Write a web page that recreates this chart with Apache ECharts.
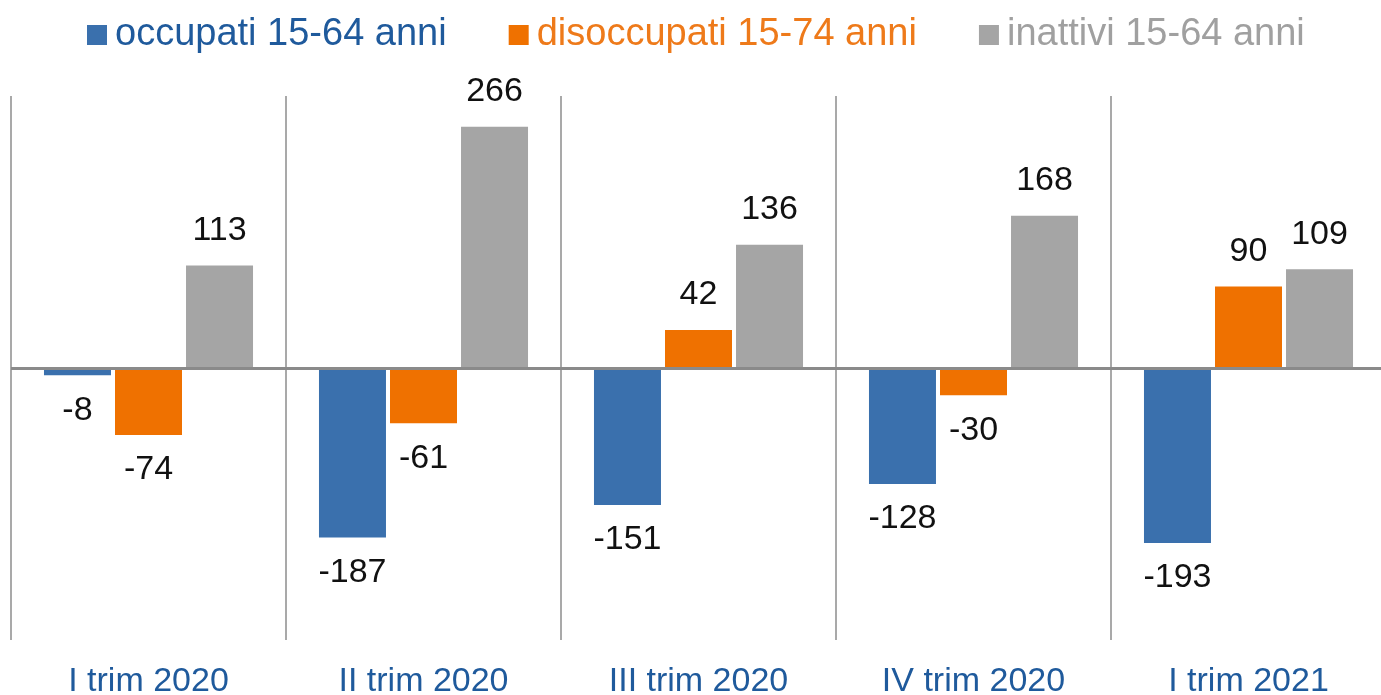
<!DOCTYPE html>
<html>
<head>
<meta charset="utf-8">
<script src="https://cdn.jsdelivr.net/npm/echarts@6/dist/echarts.min.js"></script>
<style>
  html, body { margin: 0; padding: 0; background: #fff; }
  #chart { width: 1381px; height: 695px; }
</style>
</head>
<body>
<div id="chart"></div>
<script>
// trimestri e variazioni (migliaia)
const categories = ['I trim 2020', 'II trim 2020', 'III trim 2020', 'IV trim 2020', 'I trim 2021']
const seriesNames = ['occupati 15-64 anni', 'disoccupati 15-74 anni', 'inattivi 15-64 anni']
const occupati = [-8, -187, -151, -128, -193]
const disoccupati = [-74, -61, 42, -30, 90]
const inattivi = [113, 266, 136, 168, 109]

const font = '"Liberation Sans", Arial, sans-serif'
const colors = ['#3a70ad', '#ef7100', '#a5a5a5']
const legendColors = ['#1f5a9c', '#ee7a1a', '#a0a0a0']

const chartObj = echarts.init(document.getElementById('chart'))

function makeSeries (name, data, idx) {
  const s = {
    name: name,
    type: 'bar',
    data: data,
    barWidth: 67,
    barGap: '6%',
    itemStyle: { color: colors[idx] },
    label: {
      show: true,
      position: 'outside',
      distance: 18,
      fontFamily: font,
      fontSize: 34,
      color: '#111'
    }
  }
  if (idx === 0) {
    // linea dello zero
    s.markLine = {
      silent: true,
      symbol: 'none',
      label: { show: false },
      lineStyle: { type: 'solid', color: '#8a8a8a', width: 3 },
      data: [{ yAxis: 0 }]
    }
  }
  return s
}

const option = {
  animation: false,
  legend: {
    left: 82,
    top: 11,
    itemWidth: 20,
    itemHeight: 20,
    itemGap: 62,
    icon: 'rect',
    data: seriesNames.map((n, i) => ({
      name: n,
      textStyle: { color: legendColors[i] }
    })),
    textStyle: { fontFamily: font, fontSize: 38, padding: [0, 0, 0, 3] }
  },
  grid: {
    left: 11,
    width: 1375,
    top: 96,
    bottom: 55,
    containLabel: false,
    outerBoundsMode: 'none'
  },
  xAxis: {
    type: 'category',
    data: categories,
    axisLine: { show: false },
    axisTick: { show: false },
    splitLine: {
      show: true,
      lineStyle: { color: '#8c8c8c', width: 1.5 }
    },
    axisLabel: {
      margin: 25,
      fontFamily: font,
      fontSize: 34,
      color: '#1f5a9c'
    }
  },
  yAxis: {
    type: 'value',
    min: -300,
    max: 300,
    interval: 300,
    show: false,
    splitLine: { show: false }
  },
  series: [
    makeSeries(seriesNames[0], occupati, 0),
    makeSeries(seriesNames[1], disoccupati, 1),
    makeSeries(seriesNames[2], inattivi, 2)
  ]
}

chartObj.setOption(option)
</script>
</body>
</html>
